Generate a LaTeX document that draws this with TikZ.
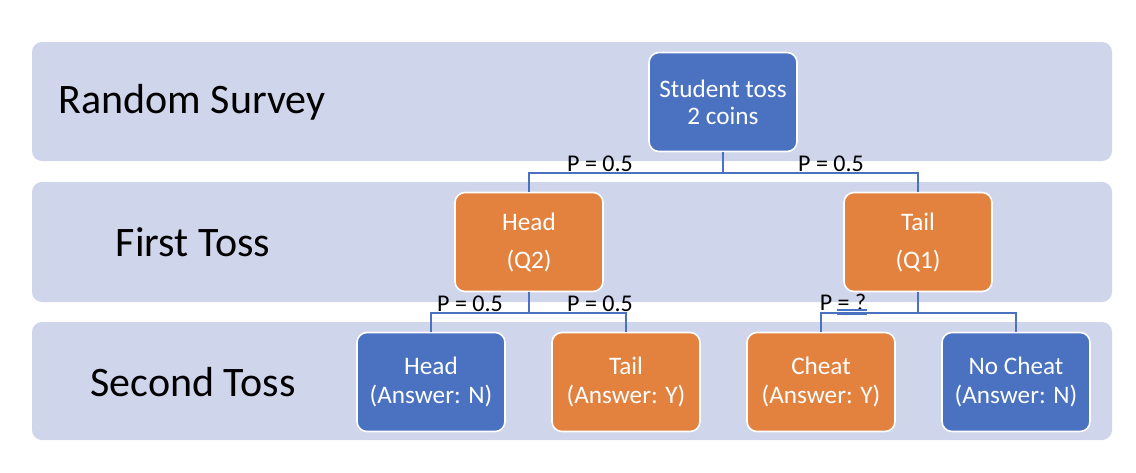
\documentclass[tikz,border=0pt]{standalone}
\usepackage{fontspec}
\setmainfont{Carlito}
\usepackage{tikz}

\definecolor{bandgray}{HTML}{CFD5EA}
\definecolor{boxblue}{HTML}{4A72C0}
\definecolor{boxorange}{HTML}{E2823E}

\begin{document}
\begin{tikzpicture}[x=0.5pt,y=-0.5pt,
  band/.style={fill=bandgray, rounded corners=5pt},
  bandlabel/.style={font=\fontsize{21}{25}\selectfont, text=black},
  box/.style={draw=white, line width=0.8pt, rounded corners=5pt, minimum width=74pt,
    minimum height=49.5pt, inner sep=0pt, align=center, text=white},
  bluebox/.style={box, fill=boxblue},
  orangebox/.style={box, fill=boxorange},
  link/.style={draw=boxblue, line width=1pt},
  prob/.style={font=\fontsize{12}{13}\selectfont, anchor=base, inner sep=0pt}]
  \useasboundingbox (0,0) rectangle (1136,472);
  % bands
  \fill[band] (32,42) rectangle (1112,161);
  \fill[band] (32,182) rectangle (1112,302);
  \fill[band] (32,322) rectangle (1112,440);
  \node[bandlabel] (lrand) at (192,102) {Random Survey};
  \node[bandlabel] (lfirst) at (193,242) {First Toss};
  \node[bandlabel] (lsecond) at (193,382) {Second Toss};
  % tree
  \node[bluebox, font=\fontsize{12.6}{13.5}\selectfont] (student) at (723,102) {Student toss\\2 coins};
  \node[orangebox, font=\fontsize{12.6}{19}\selectfont] (head) at (529,242) {Head\\(Q2)};
  \node[orangebox, font=\fontsize{12.6}{19}\selectfont] (tail) at (918,242) {Tail\\(Q1)};
  \node[bluebox, font=\fontsize{12.6}{14.5}\selectfont] (headn) at (431,382) {Head\\(Answer: N)};
  \node[orangebox, font=\fontsize{12.6}{14.5}\selectfont] (taily) at (626,382) {Tail\\(Answer: Y)};
  \node[orangebox, font=\fontsize{12.6}{14.5}\selectfont] (cheat) at (821,382) {Cheat\\(Answer: Y)};
  \node[bluebox, font=\fontsize{12.6}{14.5}\selectfont] (nocheat) at (1016,382) {No Cheat\\(Answer: N)};
  % connectors
  \draw[link] (student.south) -- ++(0,21) -| (head.north);
  \draw[link] (student.south) -- ++(0,21) -| (tail.north);
  \draw[link] (head.south) -- ++(0,21) -| (headn.north);
  \draw[link] (head.south) -- ++(0,21) -| (taily.north);
  \draw[link] (tail.south) -- ++(0,21) -| (cheat.north);
  \draw[link] (tail.south) -- ++(0,21) -| (nocheat.north);
  % probabilities
  \node[prob] (p1) at (600,171) {P = 0.5};
  \node[prob] (p2) at (831,171) {P = 0.5};
  \node[prob] (p3) at (470,311) {P = 0.5};
  \node[prob] (p4) at (600,311) {P = 0.5};
  \node[prob] (p5) at (843,310) {P = ?};
  \draw[link] (837,310) -- (867,310);
  \draw[link] (837,314) -- (867,314);
\end{tikzpicture}
\end{document}
